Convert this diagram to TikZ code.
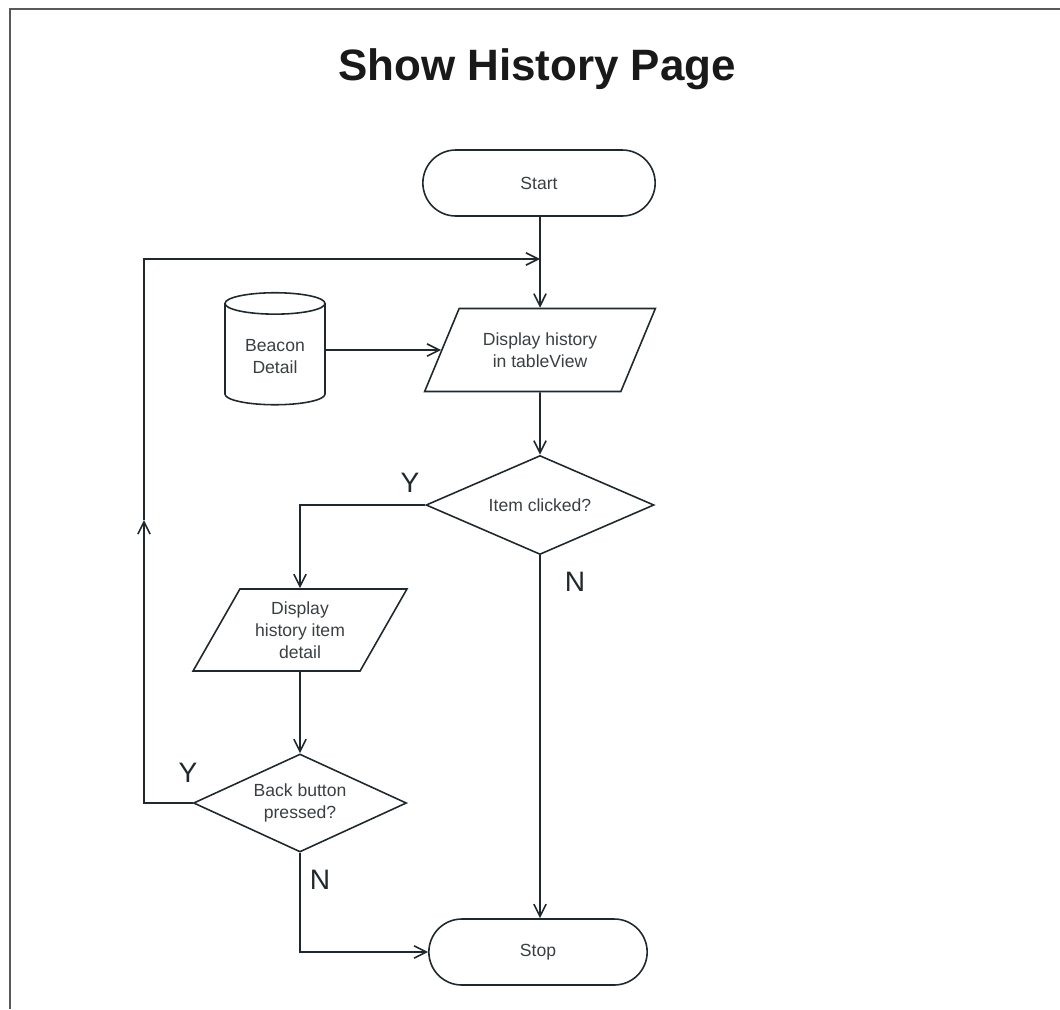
\documentclass[tikz,border=0pt]{standalone}
\usepackage{fontspec}
\setmainfont{Liberation Sans}
\usetikzlibrary{shapes.geometric,shapes.misc,arrows.meta}
\definecolor{inkline}{HTML}{1F282C}
\definecolor{inktext}{HTML}{3A3F42}

\begin{document}
\begin{tikzpicture}
			\tikzstyle{terminal}=[rounded rectangle,draw=inkline,line width=0.9pt,minimum height=1.32cm,text=inktext,font=\fontsize{10}{12.5}\selectfont]
			\tikzstyle{io}=[trapezium,trapezium left angle=60,trapezium right angle=120,trapezium stretches=true,draw=inkline,line width=0.9pt,text=inktext,align=center,font=\fontsize{10}{12.5}\selectfont]
			\tikzstyle{decision}=[diamond,draw=inkline,line width=0.9pt,inner sep=0pt,text=inktext,align=center,font=\fontsize{10}{12.5}\selectfont]
			\tikzstyle{store}=[cylinder,shape border rotate=90,aspect=0.3,draw=inkline,line width=0.9pt,minimum width=2cm,minimum height=2.24cm,text=inktext,align=center,font=\fontsize{10}{12.5}\selectfont]
			\tikzstyle{edge}=[draw=inkline,line width=0.9pt,-{Straight Barb[length=7pt,width=7pt]}]
			\tikzstyle{answer}=[text=inkline,font=\fontsize{16}{18}\selectfont]
			\useasboundingbox (0,0) rectangle (21.2,-20.18);
			\draw[gray!70!black,line width=1.2pt] (21.2,-0.18) -- (0.2,-0.18) -- (0.2,-20.18);
			\begin{scope}
				\node [font=\fontsize{25}{30}\selectfont\bfseries,text=black!90] (title) at (10.74,-1.38) {Show History Page};
				\node [terminal,minimum width=4.88cm] (start) at (10.78,-3.66) {Start};
				\node [io,minimum width=4.62cm,minimum height=1.66cm] (hist) at (10.8,-7.0) {Display history\\in tableView};
				\node [store] (beacon) at (5.5,-7.14) {Beacon\\Detail};
				\node [decision,aspect=2.3,minimum width=4.56cm,minimum height=1.98cm] (item) at (10.8,-10.1) {Item clicked?};
				\node [io,minimum width=4.28cm,minimum height=1.64cm] (detail) at (6.0,-12.6) {Display\\history item\\detail};
				\node [decision,aspect=2.17,minimum width=4.26cm,minimum height=1.96cm] (back) at (6.0,-16.06) {Back button\\pressed?};
				\node [terminal,minimum width=4.6cm] (stop) at (10.76,-19.04) {Stop};
				\coordinate (loopup) at (2.88,-10.4);
				\coordinate (join) at (10.8,-5.18);
				\node [answer] (itemyes) at (8.2,-9.66) {Y};
				\node [answer] (itemno) at (11.5,-11.64) {N};
				\node [answer] (backyes) at (3.76,-15.46) {Y};
				\node [answer] (backno) at (6.4,-17.6) {N};
				\draw[edge] (start.south -| hist) -- (hist);
				\draw[edge] (beacon.east |- hist) -- (hist);
				\path[edge] (hist) edge (item);
				\draw[edge] (item.west) -| (detail.north);
				\draw[edge] (item.south) -- (item.south |- stop.north);
				\path[edge] (detail) edge (back);
				\draw[edge] (back.south) |- (stop.west);
				\draw[edge] (back.west) -| (loopup);
				\draw[edge] (loopup) |- (join);
			\end{scope}
\end{tikzpicture}
\end{document}
